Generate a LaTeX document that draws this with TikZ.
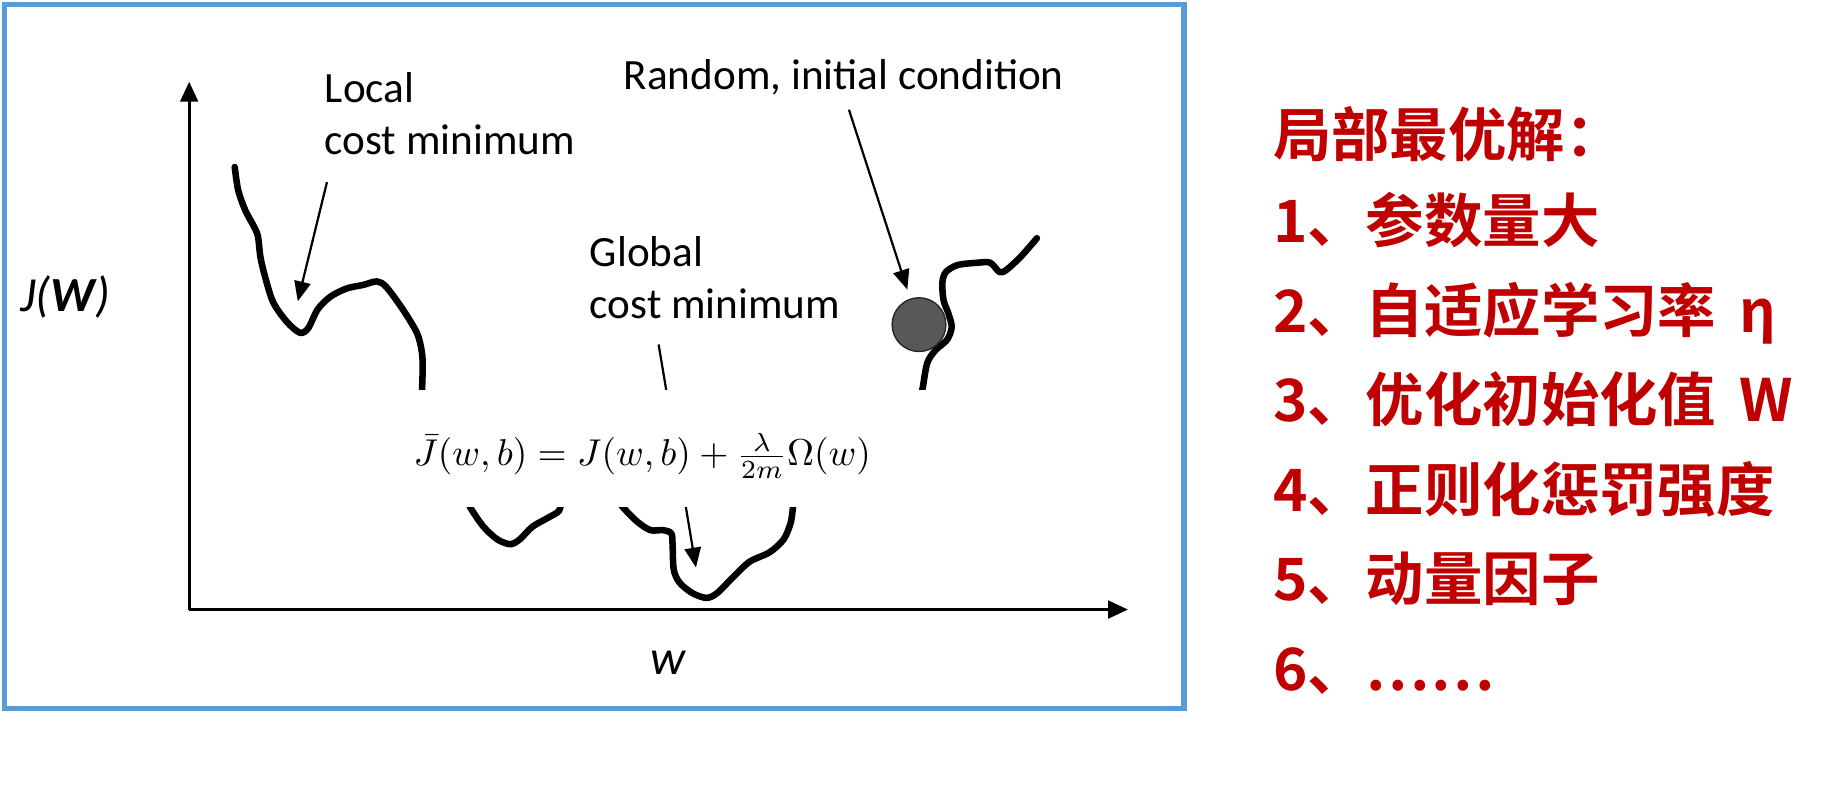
\documentclass[tikz,border=0pt]{standalone}
\usepackage[no-math]{fontspec}
\newfontfamily\lab{Carlito}
\newfontfamily\cjk{Noto Sans CJK SC}[UprightFont=* Bold]
\usetikzlibrary{arrows.meta}
\definecolor{frameblue}{HTML}{5B9BD5}
\definecolor{darkred}{HTML}{C00000}
\definecolor{ballgray}{HTML}{585858}
\begin{document}
\begin{tikzpicture}[x=1pt,y=-1pt,
  curve/.style={line width=5.6pt, line cap=round, line join=round},
  pointer/.style={line width=1.9pt, -{Triangle[length=17pt,width=14pt]}},
  axis/.style={line width=2.6pt, -{Triangle[length=17pt,width=15pt]}},
  lab/.style={font=\lab\fontsize{37}{44}\selectfont, inner sep=0pt, anchor=base west},
  axlab/.style={font=\lab\itshape\fontsize{42}{50}\selectfont, inner sep=0pt},
  item/.style={font=\cjk\fontsize{50}{60}\selectfont, text=darkred, inner sep=0pt, anchor=base west}]
\useasboundingbox (0,0) rectangle (1568,687);
\fill[white] (0,0) rectangle (1568,687);
\draw[frameblue, line width=4.5pt] (4,4) rectangle (1014,607);

% axes
\coordinate (O) at (162,522);
\coordinate (ytip) at (162,70);
\coordinate (xtip) at (966,522);
\draw[axis] (O) -- (ytip);
\draw[axis] (O) -- (xtip);
\node[axlab, anchor=base west] (jw) at (17,267) {J(\textbf{W})};
\node[axlab, anchor=base] (wlab) at (572,578) {w};

% cost curve pieces
\draw[curve] plot[smooth, tension=0.5] coordinates {(201,143) (204,163) (210,180) (218,195) (221,203) (223,220) (227,237) (234,259) (246,276) (257,285) (264,281) (272,265) (283,254) (297,247) (311,244) (323,241) (331,246) (345,265) (357,285) (361,300) (362,314) (361,345)};
\draw[curve] plot[smooth, tension=0.5] coordinates {(399,425) (403,435) (414,451) (426,462) (437,466) (445,462) (456,451) (470,443) (479,437) (481,425)};
\draw[curve] plot[smooth, tension=0.5] coordinates {(526,425) (534,435) (546,447) (557,454) (568,454) (575,457) (576,468) (577,488) (582,499) (593,508) (605,512) (614,508) (628,494) (642,481) (659,473) (671,462) (677,448) (679,435) (680,425)};
\draw[curve] plot[smooth, tension=0.5] coordinates {(787,345) (790,333) (794,311) (801,300) (811,291) (815,280) (812,268) (808,257) (807,242) (810,233) (820,227) (837,225) (848,225) (856,233) (862,231) (874,220) (888,204)};

\node[circle, fill=ballgray, draw=black!85, line width=1.2pt, minimum size=46pt, inner sep=0pt] (ball) at (787,278) {};

% labels and pointers
\node[lab] (local1) at (278,88) {Local};
\node[lab] (local2) at (278,132) {cost minimum};
\node[lab] (global1) at (505,228) {Global};
\node[lab] (global2) at (505,273) {cost minimum};
\node[lab] (random) at (534,77) {Random, initial condition};

\coordinate (localtail) at (280,156);
\coordinate (localtip) at (255,258);
\coordinate (randtail) at (727,94);
\coordinate (randtip) at (777,248);
\coordinate (globtail) at (564,295);
\coordinate (globtip) at (596,486);
\draw[pointer] (localtail) -- (localtip);
\draw[pointer] (randtail) -- (randtip);
\draw[pointer] (globtail) -- (globtip);

% formula over white mask
\fill[white] (300,334) rectangle (810,434);
\node[inner sep=0pt, anchor=base] (formula) at (550,399)
  {\scalebox{3.2}{$\bar{J}(w,b) = J(w,b) + \frac{\lambda}{2m}\Omega(w)$}};

% red list
\node[item] (t0) at (1090,134) {局部最优解：};
\node[item] (t1) at (1090,208) {1、参数量大};
\node[item] (t2) at (1090,285) {2、自适应学习率\hspace{0.4em}η};
\node[item] (t3) at (1090,361) {3、优化初始化值\hspace{0.4em}W};
\node[item] (t4) at (1090,438) {4、正则化惩罚强度};
\node[item] (t5) at (1090,514) {5、动量因子};
\node[item] (t6) at (1090,591) {6、……};
\end{tikzpicture}
\end{document}
